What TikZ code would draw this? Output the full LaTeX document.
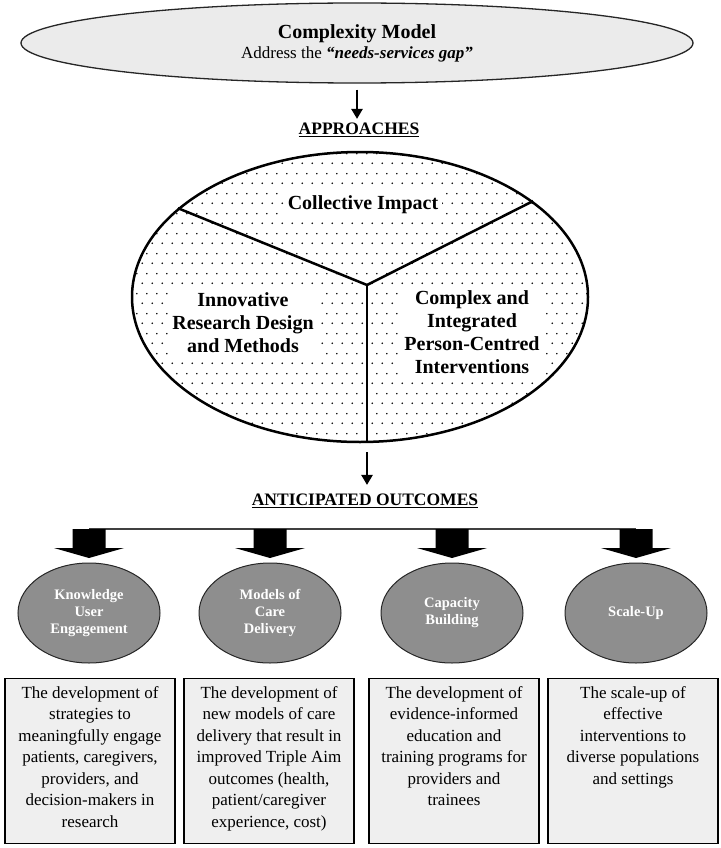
\documentclass[tikz,border=0pt]{standalone}
\usepackage{fontspec}
\setmainfont{Liberation Serif}
\usetikzlibrary{arrows.meta,shapes.geometric,patterns}

\definecolor{modelfill}{HTML}{EBEBEB}
\definecolor{boxfill}{HTML}{EFEFEF}
\definecolor{circfill}{HTML}{8E8E8E}

% staggered dots for the approaches ellipse
\pgfdeclarepatternformonly{sparsedots}{\pgfpointorigin}{\pgfpoint{10pt}{20pt}}{\pgfpoint{10pt}{20pt}}{%
  \pgfpathcircle{\pgfpoint{2.5pt}{5pt}}{0.9pt}%
  \pgfpathcircle{\pgfpoint{7.5pt}{15pt}}{0.9pt}%
  \pgfusepath{fill}}

\begin{document}
\begin{tikzpicture}[x=1pt,y=-1pt,>={Triangle[width=11pt,length=10pt]},
  headlbl/.style={font=\bfseries\fontsize{17.5}{20}\selectfont,inner sep=0pt},
  apptxt/.style={font=\bfseries\fontsize{20}{23}\selectfont,align=center,fill=white,inner sep=4pt},
  outcome/.style={ellipse,draw=black!85,line width=1pt,fill=circfill,minimum width=142pt,minimum height=100pt,inner sep=0pt,text=white,font=\bfseries\fontsize{14.5}{17}\selectfont,align=center},
  descbox/.style={draw,line width=1.2pt,fill=boxfill,minimum width=170pt,minimum height=165pt,anchor=north},
  desctxt/.style={font=\fontsize{17}{21.5}\selectfont,align=center,anchor=north,inner sep=0pt}]
\path[fill=white,use as bounding box] (0,0) rectangle (720,848);

\node[ellipse,draw=black!85,line width=1.3pt,fill=modelfill,minimum width=672pt,minimum height=80pt,inner sep=0pt,align=center,font=\fontsize{17}{20}\selectfont] (model) at (357,43)
  {{\bfseries\fontsize{20}{24}\selectfont Complexity Model}\\Address the \textbf{\textit{“needs-services gap”}}};
\node[headlbl] (apprlbl) at (359,130) {\underline{APPROACHES}};
\draw[->,line width=2.5pt,shorten <=6pt,shorten >=4pt] (model.south) -- (model.south |- apprlbl.north);

\node[ellipse,draw,line width=2.5pt,pattern=sparsedots,minimum width=456pt,minimum height=290pt,inner sep=0pt] (approach) at (360,297) {};
\coordinate (hub) at (367,285);
\draw[line width=2.5pt] (approach.154) -- (hub) -- (approach.29);
\draw[line width=2.5pt] (hub) -- (hub |- approach.south);
\node[apptxt] (ci) at (363,205) {Collective Impact};
\node[apptxt] (ird) at (243,323) {Innovative\\Research Design\\and Methods};
\node[apptxt] (cip) at (472,332) {Complex and\\Integrated\\Person-Centred\\Interventions};

\node[headlbl] (outlbl) at (365,501) {\underline{ANTICIPATED OUTCOMES}};
\draw[->,line width=2.5pt,shorten <=9pt,shorten >=9pt] (hub |- approach.south) -- (hub |- outlbl.north);

\foreach \n/\x/\txt in {ku/89/{Knowledge\\User\\Engagement},mc/270/{Models of\\Care\\Delivery},cb/452/{Capacity\\Building},su/636/{Scale-Up}}{
  \node[outcome] (\n) at (\x,613) {\txt};
  \coordinate (\n-in) at (\x,529);
}
\draw[line width=1.5pt,black!75] (ku-in) -- (su-in);
\foreach \n in {ku,mc,cb,su}{
  \fill (\n-in) ++(-16.5,0) -- ++(33,0) -- ++(0,19) -- ++(18.5,0) -- ++(-35,10) -- ++(-35,-10) -- ++(18.5,0) -- cycle;
}

\foreach \n/\x/\txt in {
  ku/90/{The development of\\strategies to\\meaningfully engage\\patients, caregivers,\\providers, and\\decision-makers in\\research},
  mc/269/{The development of\\new models of care\\delivery that result in\\improved Triple Aim\\outcomes (health,\\patient/caregiver\\experience, cost)},
  cb/454/{The development of\\evidence-informed\\education and\\training programs for\\providers and\\trainees},
  su/633/{The scale-up of\\effective\\interventions to\\diverse populations\\and settings}}{
  \node[descbox] (\n-box) at (\x,678) {};
  \node[desctxt] (\n-txt) at ([yshift=-8pt]\n-box.north) {\txt};
}
\end{tikzpicture}
\end{document}
